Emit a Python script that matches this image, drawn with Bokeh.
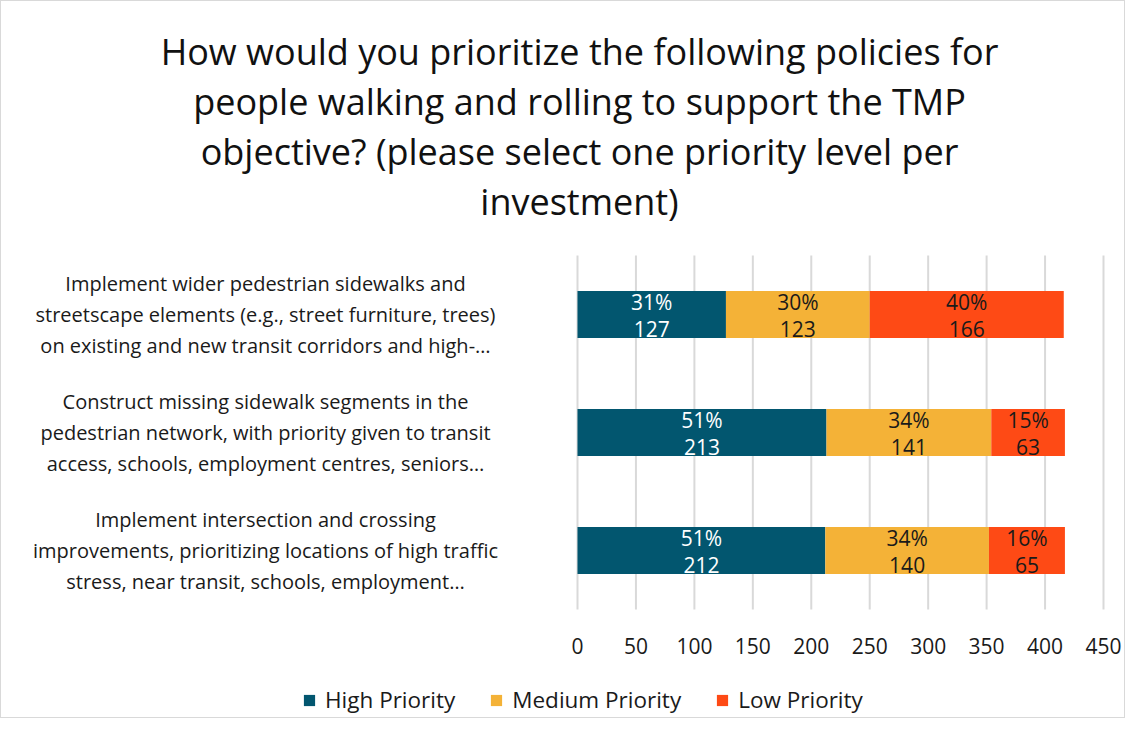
import numpy as np
from bokeh.plotting import figure
from bokeh.models import ColumnDataSource, Range1d, Label, Legend, LegendItem
from bokeh.core.properties import value
from bokeh.embed import file_html
from bokeh.resources import INLINE

# ---------------- data ----------------
title_text = ("How would you prioritize the following policies for\n"
              "people walking and rolling to support the TMP\n"
              "objective? (please select one priority level per\n"
              "investment)")
categories = [
    "Implement wider pedestrian sidewalks and\nstreetscape elements (e.g., street furniture, trees)\non existing and new transit corridors and high-…",
    "Construct missing sidewalk segments in the\npedestrian network, with priority given to transit\naccess, schools, employment centres, seniors…",
    "Implement intersection and crossing\nimprovements, prioritizing locations of high traffic\nstress, near transit, schools, employment…",
]
series_names = ["High Priority", "Medium Priority", "Low Priority"]
high = [127, 213, 212]
medium = [123, 141, 140]
low = [166, 63, 65]
pct_high = [31, 51, 51]
pct_medium = [30, 34, 34]
pct_low = [40, 15, 16]
x_ticks = [0, 50, 100, 150, 200, 250, 300, 350, 400, 450]

# ---------------- styles / layout (pixels) ----------------
colors = ["#02566F", "#F4B237", "#FE4A15"]
text_colors = ["#ffffff", "#1a1a1a", "#1a1a1a"]
FONT = "Open Sans"
W, H = 1125, 718
PLOT_LEFT, PLOT_RIGHT = 576, 1102      # pixel span of the value area
PLOT_TOP, PLOT_BOTTOM = 254, 608       # pixel span of the category area
XMAX = 450.0

n = len(categories)
ypos = [float(n - 1 - i) for i in range(n)]  # first category at top
y_lo, y_hi = -0.5, n - 0.5

px_x = (PLOT_RIGHT - PLOT_LEFT) / XMAX
px_y = (PLOT_BOTTOM - PLOT_TOP) / (y_hi - y_lo)
x_range = Range1d(-PLOT_LEFT / px_x, XMAX + (W - PLOT_RIGHT) / px_x)
y_range = Range1d(y_lo - (H - PLOT_BOTTOM) / px_y, y_hi + PLOT_TOP / px_y)

values = [np.array(high, float), np.array(medium, float), np.array(low, float)]
pcts = [pct_high, pct_medium, pct_low]

p = figure(width=W, height=H, x_range=x_range, y_range=y_range,
           x_axis_type=None, y_axis_type=None,
           output_backend="svg", toolbar_location=None,
           min_border=0)
p.styles = {"border": "1px solid #d9d9d9"}
p.outline_line_color = None
p.background_fill_color = "white"
p.border_fill_color = "white"

# vertical gridlines at the value ticks, spanning the category area
p.segment(x0=x_ticks, y0=[y_lo] * len(x_ticks), x1=x_ticks, y1=[y_hi] * len(x_ticks),
          line_color="#d9d9d9", line_width=2)

# value tick labels
p.text(x=x_ticks, y=[y_lo] * len(x_ticks), text=[str(t) for t in x_ticks],
       y_offset=36, text_align="center", text_baseline="middle",
       text_font=value(FONT), text_font_size="21px", text_color="#1a1a1a")

left = np.zeros(n)
renderers = []
for i, vals in enumerate(values):
    right = left + vals
    src = ColumnDataSource(dict(y=ypos, left=left, right=right,
                                mid=(left + right) / 2,
                                pct=[f"{v}%" for v in pcts[i]],
                                cnt=[str(int(v)) for v in vals]))
    r = p.hbar(y="y", left="left", right="right", height=0.4, source=src,
               fill_color=colors[i], line_color=None)
    renderers.append(r)
    p.text(x="mid", y="y", text="pct", source=src, y_offset=-13,
           text_align="center", text_baseline="middle",
           text_font=value(FONT), text_font_size="21px", text_color=text_colors[i])
    p.text(x="mid", y="y", text="cnt", source=src, y_offset=14,
           text_align="center", text_baseline="middle",
           text_font=value(FONT), text_font_size="21px", text_color=text_colors[i])
    left = right

# category labels (centered, multi-line) in the label area left of zero
for cat, yv in zip(categories, ypos):
    p.add_layout(Label(x=264, y=yv, x_units="screen", y_units="data", text=cat,
                       text_align="center", text_baseline="middle",
                       text_font=FONT, text_font_size="20px", text_color="#1a1a1a",
                       text_line_height=1.16))

# title
p.add_layout(Label(x=578, y=H - 125, x_units="screen", y_units="screen", text=title_text,
                   text_align="center", text_baseline="middle",
                   text_font=FONT, text_font_size="36px", text_color="#111111",
                   text_line_height=1.017))

legend = Legend(items=[LegendItem(label=nm, renderers=[r]) for nm, r in zip(series_names, renderers)],
                orientation="horizontal", location=(301, 4),
                label_text_font=FONT, label_text_font_size="22.5px", label_text_color="#1a1a1a",
                glyph_width=14, glyph_height=14, label_standoff=9, spacing=34,
                padding=0, margin=0, border_line_color=None, background_fill_alpha=0)
p.add_layout(legend)

open("out.html", "w").write(file_html(p, INLINE))
